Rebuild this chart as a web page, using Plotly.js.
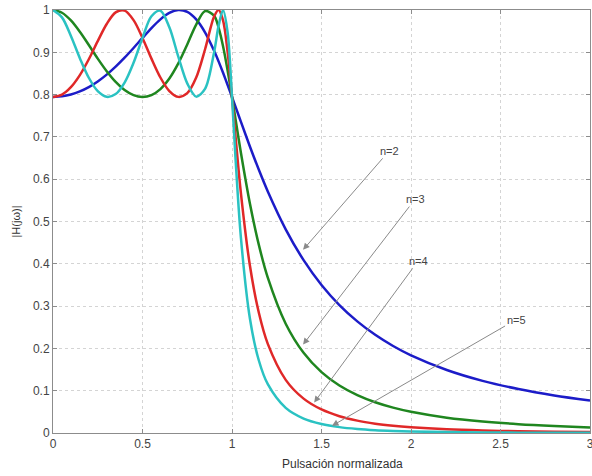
<!DOCTYPE html>
<html>
<head>
<meta charset="utf-8">
<script src="https://cdn.plot.ly/plotly-3.0.1.min.js"></script>
<style>html,body{margin:0;padding:0;background:#fff;}#chart{width:592px;height:476px;}</style>
</head>
<body>
<div id="chart"></div>
<script>
// Normalized frequency samples
const xs = [0,0.05,0.1,0.15,0.2,0.25,0.3,0.35,0.4,0.45,0.5,0.55,0.6,0.65,0.7,0.75,0.8,0.85,0.9,0.925,0.95,0.975,1,1.02,1.05,1.1,1.15,1.2,1.3,1.4,1.5,1.6,1.7,1.8,1.9,2,2.2,2.4,2.6,2.8,3];

// |H(jw)|, one series per order n
const n2 = [0.7943,0.7958,0.8002,0.8076,0.8178,0.8311,0.8472,0.8660,0.8872,0.9102,0.9340,0.9572,0.9778,0.9931,0.9999,0.9955,0.9778,0.9467,0.9036,
            0.8785,0.8516,0.8234,0.7943,
            0.7708,0.7354,0.6774,0.6222,0.5710,
            0.4815,0.4087,0.3500,0.3025,0.2639,0.2321,0.2057,0.1836,
            0.1490,0.1233,0.1039,0.0887,0.0767];
const n3 = [1.0,0.9935,0.9753,0.9485,0.9172,0.8851,0.8553,0.8301,0.8108,0.7986,0.7943,0.7989,0.8131,0.8380,0.8737,0.9186,0.9656,0.9975,0.9866,
            0.9581,0.9142,0.8581,0.7943,
            0.7410,0.6620,0.5426,0.4447,0.3672,
            0.2584,0.1895,0.1438,0.1122,0.0895,0.0727,0.0600,0.0502,
            0.0363,0.0272,0.0209,0.0165,0.0132];
const n4 = [0.7943,0.8002,0.8176,0.8460,0.8836,0.9264,0.9669,0.9943,0.9984,0.9760,0.9340,0.8850,0.8404,0.8084,0.7946,0.8035,0.8404,0.9078,0.9847,
            1.0,0.9753,0.9024,0.7943,
            0.6994,0.5661,0.3959,0.2841,0.2106,
            0.1256,0.0812,0.0556,0.0397,0.0292,0.0221,0.0171,0.0135,
            0.0087,0.0059,0.0042,0.0030,0.0023];
const n5 = [1.0,0.9826,0.9387,0.8862,0.8398,0.8081,0.7947,0.8012,0.8285,0.8752,0.9340,0.9852,0.9983,0.9591,0.8897,0.8265,0.7952,0.8140,0.9003,
            0.9624,0.9999,0.9488,0.7943,
            0.6470,0.4608,0.2708,0.1714,0.1154,
            0.0594,0.0342,0.0213,0.0139,0.0095,0.0067,0.0049,0.0036,
            0.0021,0.0013,0.0008,0.0006,0.0004];

const seriesNames = ['n=2','n=3','n=4','n=5'];
const seriesValues = [n2,n3,n4,n5];
const xTicks = [0,0.5,1,1.5,2,2.5,3];
const yTicks = [0,0.1,0.2,0.3,0.4,0.5,0.6,0.7,0.8,0.9,1];
const xTitle = 'Pulsación normalizada';
const yTitle = '|H(jω)|';

const colors = ['#1c1cc8','#1f861f','#e02828','#2ac2c2'];

const traces = seriesValues.map((v,i)=>({
  x: xs, y: v, type:'scatter', mode:'lines', name: seriesNames[i],
  line:{color:colors[i], width:2.5, shape:'spline', smoothing:0.9},
  hoverinfo:'skip'
}));

// arrow heads (x,y) and label anchors (ax,ay), data coordinates
const arrowHead = [[1.397,0.433],[1.397,0.209],[1.459,0.072],[1.559,0.017]];
const labelPos  = [[1.878,0.667],[2.023,0.553],[2.040,0.407],[2.587,0.268]];

const annotations = seriesNames.map((t,i)=>({
  x: arrowHead[i][0], y: arrowHead[i][1], xref:'x', yref:'y',
  ax: labelPos[i][0], ay: labelPos[i][1], axref:'x', ayref:'y',
  text: t, showarrow:true, arrowhead:2, arrowsize:1.3, arrowwidth:1,
  arrowcolor:'#8a8a8a', standoff:0,
  font:{family:'Liberation Sans, Arial, sans-serif', size:11, color:'#444'}
}));
annotations.push({
  text: xTitle, xref:'paper', yref:'paper', x:0.54, y:0, yshift:-31,
  xanchor:'center', yanchor:'middle', showarrow:false,
  font:{family:'Liberation Sans, Arial, sans-serif', size:12, color:'#333'}
});

const axisCommon = {
  showline:true, linecolor:'#8c8c8c', linewidth:1, mirror:'ticks',
  ticks:'inside', ticklen:4, tickcolor:'#8c8c8c',
  showgrid:true, gridcolor:'#d4d4d4', griddash:'dot', gridwidth:1,
  zeroline:false,
  tickfont:{family:'Liberation Sans, Arial, sans-serif', size:12, color:'#444'}
};

const layout = {
  width:592, height:476,
  margin:{l:53, r:2, t:10, b:43},
  paper_bgcolor:'#fff', plot_bgcolor:'#fff',
  showlegend:false,
  xaxis:Object.assign({}, axisCommon, {range:[0,3], tickvals:xTicks, ticktext:xTicks.map(String), ticklabeloverflow:'allow'}),
  yaxis:Object.assign({}, axisCommon, {range:[0,1], tickvals:yTicks, ticktext:yTicks.map(String),
    title:{text:yTitle, standoff:10, font:{family:'Liberation Sans, Arial, sans-serif', size:11, color:'#333'}}}),
  annotations: annotations
};

Plotly.newPlot('chart', traces, layout, {staticPlot:true, displayModeBar:false});
</script>
</body>
</html>
